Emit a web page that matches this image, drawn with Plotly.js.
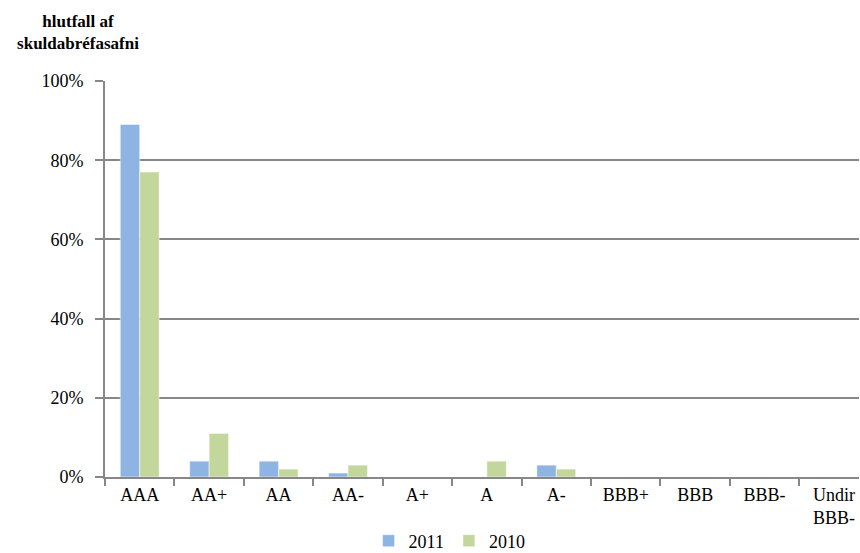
<!DOCTYPE html>
<html>
<head>
<meta charset="utf-8">
<script src="https://cdn.plot.ly/plotly-3.0.1.min.js"></script>
<style>html,body{margin:0;padding:0;background:#fff;}#chart{width:860px;height:553px;}</style>
</head>
<body>
<div id="chart"></div>
<script>
const categories = ["AAA", "AA+", "AA", "AA-", "A+", "A", "A-", "BBB+", "BBB", "BBB-", "Undir<br>BBB-"];
const values2011 = [89, 4, 4, 1, 0, 0, 3, 0, 0, 0, 0];
const values2010 = [77, 11, 2, 3, 0, 4, 2, 0, 0, 0, 0];
const seriesNames = ["2011", "2010"];
const yTicks = [0, 20, 40, 60, 80, 100];
const yTickLabels = ["0%", "20%", "40%", "60%", "80%", "100%"];

const font = "Liberation Serif";
const gridColor = "#878787";

const traces = [
  {type: "bar", name: seriesNames[0], x: categories, y: values2011, marker: {color: "#8EB4E3", line: {color: "#ffffff", width: 0.5}}},
  {type: "bar", name: seriesNames[1], x: categories, y: values2010, marker: {color: "#C3D69B", line: {color: "#ffffff", width: 0.5}}}
];

const layout = {
  width: 860, height: 553,
  margin: {l: 105, r: 1, t: 81, b: 76},
  paper_bgcolor: "#fff", plot_bgcolor: "#fff",
  font: {family: font, size: 18, color: "#000"},
  barmode: "group", bargap: 0.44, bargroupgap: 0,
  showlegend: true,
  legend: {orientation: "h", x: 0.457, xanchor: "center", yref: "container", y: 1 - 541/553, yanchor: "middle", font: {family: font, size: 18}, itemwidth: 30, traceorder: "normal"},
  title: {text: "<b>hlutfall af<br>skuldabréfasafni</b>", xref: "container", yref: "container", x: 78/860, xanchor: "center", y: 1 - 27/553, yanchor: "middle", font: {family: font, size: 17, color: "#000"}},
  xaxis: {
    type: "category", range: [-0.5, 10.36], showline: true, linecolor: gridColor, linewidth: 2,
    ticks: "outside", ticklen: 7, tickwidth: 2, tickcolor: gridColor, tickson: "boundaries",
    showgrid: false, fixedrange: true, tickfont: {family: font, size: 18}, automargin: false
  },
  yaxis: {
    range: [0, 100], tickmode: "array", tickvals: yTicks, ticktext: yTickLabels, showline: true, linecolor: gridColor, linewidth: 2,
    ticks: "outside", ticklen: 8, tickwidth: 2, tickcolor: gridColor, ticklabelstandoff: 8,
    showgrid: true, gridcolor: gridColor, gridwidth: 2, zeroline: false, tickfont: {family: font, size: 18}, automargin: false
  }
};

Plotly.newPlot("chart", traces, layout, {staticPlot: true, displayModeBar: false});
</script>
</body>
</html>
